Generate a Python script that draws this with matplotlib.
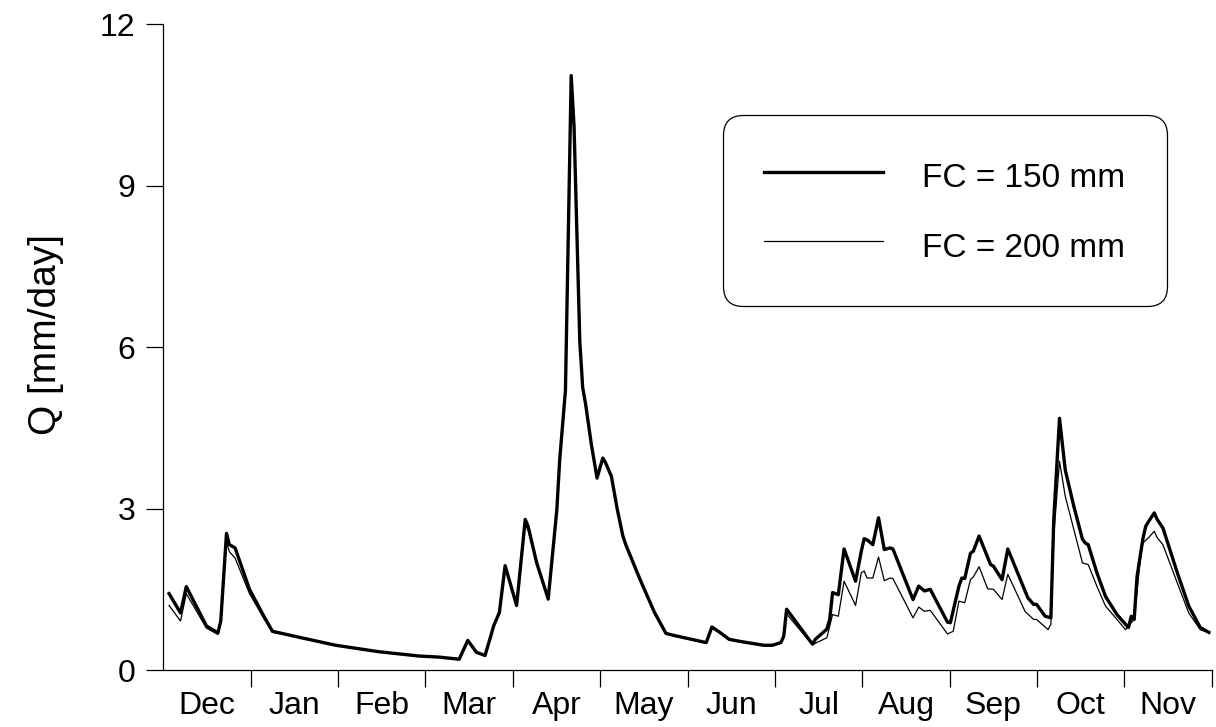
import numpy as np

import matplotlib
matplotlib.use('agg')

from matplotlib import pyplot as plt

plt.rcParams['font.family'] = ['Liberation Sans', 'DejaVu Sans']

# days counted from 1 December, Q in mm/day
days_150 = [2, 6, 8, 15, 19, 20, 22, 23, 25, 30, 35, 38, 48, 60, 75, 89, 96, 103,
            106, 109, 112, 114, 115, 117, 119, 123, 126, 127, 130, 134, 137, 138,
            140, 142, 143, 145, 146, 147, 149, 151, 153, 154, 156, 158, 160, 161,
            166, 171, 175, 178, 189, 191, 194, 197, 201, 209, 212, 215, 216, 217,
            226, 227, 231, 232, 233, 235, 237, 241, 243, 244, 245, 247, 249, 251,
            253, 254, 261, 263, 265, 267, 273, 274, 277, 278, 279, 281, 282, 284,
            288, 289, 292, 294, 301, 303, 304, 307, 309, 310, 312, 314, 317, 320,
            321, 322, 325, 328, 332, 336, 337, 338, 339, 341, 342, 343, 345, 346,
            348, 353, 357, 361, 364]
q_150 = [1.42, 1.06, 1.55, 0.82, 0.69, 0.91, 2.54, 2.33, 2.27, 1.50, 1.00, 0.72,
         0.60, 0.46, 0.34, 0.26, 0.24, 0.20, 0.55, 0.33, 0.27, 0.63, 0.82, 1.07,
         1.94, 1.20, 2.80, 2.67, 1.99, 1.32, 2.98, 3.91, 5.20, 11.05, 10.10, 6.10,
         5.25, 4.95, 4.20, 3.57, 3.94, 3.85, 3.60, 3.00, 2.49, 2.33, 1.68, 1.07,
         0.68, 0.64, 0.51, 0.80, 0.69, 0.57, 0.53, 0.46, 0.46, 0.51, 0.63, 1.13,
         0.48, 0.57, 0.76, 0.94, 1.44, 1.40, 2.25, 1.65, 2.21, 2.44, 2.42, 2.33,
         2.83, 2.24, 2.27, 2.25, 1.31, 1.56, 1.47, 1.50, 0.89, 0.88, 1.56, 1.71,
         1.70, 2.17, 2.21, 2.49, 1.96, 1.93, 1.68, 2.25, 1.34, 1.22, 1.22, 1.00,
         0.97, 2.80, 4.68, 3.72, 3.04, 2.43, 2.36, 2.33, 1.81, 1.37, 1.03, 0.79,
         1.00, 0.94, 1.74, 2.43, 2.67, 2.76, 2.92, 2.80, 2.64, 1.81, 1.19, 0.79,
         0.70]

days_200 = [2, 6, 8, 15, 19, 20, 22, 23, 25, 30, 35, 38, 48, 60, 75, 89, 96, 103,
            106, 109, 112, 114, 115, 117, 119, 123, 126, 127, 130, 134, 137, 138,
            140, 142, 143, 145, 146, 147, 149, 151, 153, 154, 156, 158, 160, 161,
            166, 171, 175, 178, 189, 191, 194, 197, 201, 209, 212, 215, 216, 217,
            226, 231, 233, 235, 237, 241, 243, 244, 245, 247, 249, 251, 253, 254,
            261, 263, 265, 267, 273, 275, 277, 279, 281, 282, 284, 287, 289, 292,
            294, 300, 303, 304, 307, 308, 309, 310, 312, 314, 317, 320, 322, 325,
            328, 332, 335, 337, 338, 340, 341, 343, 345, 346, 348, 353, 357, 361,
            364]
q_200 = [1.20, 0.91, 1.42, 0.78, 0.66, 0.88, 2.38, 2.20, 2.08, 1.42, 0.96, 0.70,
         0.60, 0.46, 0.34, 0.26, 0.24, 0.20, 0.55, 0.33, 0.27, 0.63, 0.82, 1.07,
         1.90, 1.18, 2.70, 2.60, 1.97, 1.30, 2.95, 3.88, 5.15, 10.95, 10.00, 6.05,
         5.20, 4.92, 4.18, 3.55, 3.92, 3.83, 3.58, 2.98, 2.47, 2.31, 1.66, 1.05,
         0.67, 0.63, 0.50, 0.78, 0.68, 0.56, 0.52, 0.45, 0.45, 0.50, 0.60, 1.04,
         0.47, 0.60, 1.03, 1.00, 1.65, 1.20, 1.81, 1.84, 1.71, 1.71, 2.10, 1.66,
         1.71, 1.70, 0.97, 1.17, 1.09, 1.11, 0.67, 0.72, 1.28, 1.25, 1.68, 1.73,
         1.92, 1.51, 1.50, 1.31, 1.78, 1.09, 0.94, 0.94, 0.80, 0.75, 0.85, 2.49,
         3.88, 3.23, 2.61, 1.99, 1.96, 1.56, 1.19, 0.94, 0.75, 0.88, 0.94, 1.99,
         2.36, 2.46, 2.58, 2.46, 2.33, 1.62, 1.06, 0.75, 0.69]

months = ['Dec', 'Jan', 'Feb', 'Mar', 'Apr', 'May', 'Jun',
          'Jul', 'Aug', 'Sep', 'Oct', 'Nov']
y_ticks = [0, 3, 6, 9, 12]

month_len = 365 / 12

fig = plt.figure(figsize=(12.16, 7.27), dpi=100)
ax = fig.add_axes([0.1343, 0.0784, 0.8622, 0.8879])

ax.plot(days_150, q_150, color='black', lw=2.4, label='FC = 150 mm')
ax.plot(days_200, q_200, color='black', lw=0.9, label='FC = 200 mm')

ax.set_xlim(0, 365)
ax.set_ylim(0, 12)

ax.spines['top'].set_visible(False)
ax.spines['right'].set_visible(False)
for s in ['left', 'bottom']:
    ax.spines[s].set_linewidth(0.9)

# month borders as ticks, names centred in between
ax.set_xticks(np.arange(1, 13) * month_len)
ax.set_xticklabels([])
ax.set_xticks((np.arange(12) + 0.5) * month_len, minor=True)
ax.set_xticklabels(months, minor=True)
ax.tick_params(axis='x', which='major', length=12, width=0.9, direction='out')
ax.tick_params(axis='x', which='minor', length=0, pad=15, labelsize=23)

ax.set_yticks(y_ticks)
ax.tick_params(axis='y', length=12, width=0.9, direction='out', pad=8, labelsize=23)

ax.set_ylabel('Q [mm/day]', size=28)
ax.yaxis.set_label_coords(-0.095, 0.52)

leg = ax.legend(loc='upper left', bbox_to_anchor=(0.5336, 0.8598), borderaxespad=0,
                fontsize=24, handlelength=3.57, handletextpad=1.15, borderpad=1.25,
                handleheight=1.38, labelspacing=0.95, fancybox=True, framealpha=1)
frame = leg.get_frame()
frame.set_edgecolor('black')
frame.set_linewidth(0.9)
frame.set_boxstyle('round,pad=0,rounding_size=0.6')

plt.savefig('out.png')
